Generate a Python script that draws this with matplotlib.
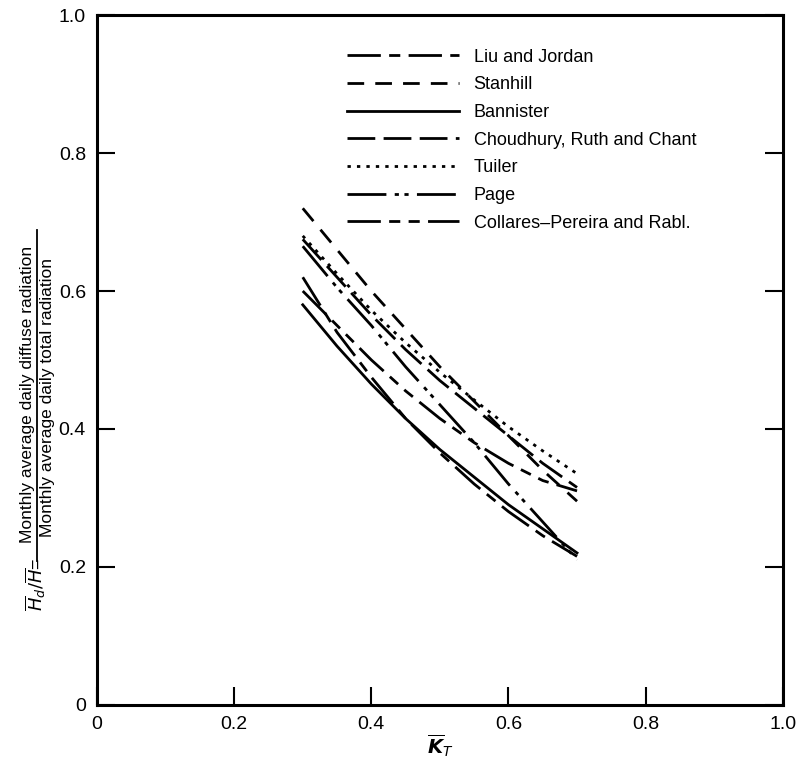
import numpy as np
import matplotlib.pyplot as plt
from matplotlib.lines import Line2D

plt.rcParams['font.family'] = ['Liberation Sans', 'DejaVu Sans']

# --- Data (K_T vs Hd/H) ---
kt = [0.30, 0.35, 0.40, 0.45, 0.50, 0.55, 0.60, 0.65, 0.70]

liu_jordan = [0.62, 0.54, 0.475, 0.415, 0.365, 0.32, 0.28, 0.245, 0.215]
stanhill = [0.72, 0.66, 0.60, 0.545, 0.49, 0.44, 0.39, 0.34, 0.295]
bannister = [0.58, 0.52, 0.465, 0.415, 0.37, 0.33, 0.29, 0.255, 0.22]
choudhury = [0.675, 0.62, 0.565, 0.515, 0.47, 0.43, 0.39, 0.35, 0.315]
tuiler = [0.68, 0.625, 0.572, 0.525, 0.482, 0.442, 0.403, 0.368, 0.335]
page = [0.665, 0.605, 0.55, 0.49, 0.435, 0.38, 0.32, 0.265, 0.21]
collares = [0.60, 0.55, 0.50, 0.455, 0.415, 0.38, 0.35, 0.325, 0.31]

labels = ["Liu and Jordan", "Stanhill", "Bannister",
          "Choudhury, Ruth and Chant", "Tuiler", "Page",
          "Collares\u2013Pereira and Rabl."]

ticks = [0, 0.2, 0.4, 0.6, 0.8, 1.0]
tick_labels = ["0", "0.2", "0.4", "0.6", "0.8", "1.0"]

fig = plt.figure(figsize=(8.02, 7.65), dpi=100)
ax = fig.add_axes([0.121, 0.079, 0.855, 0.901])

lw = 2.0
ax.plot(kt, liu_jordan, color='black', lw=lw, dashes=(12, 3, 4, 3), label=labels[0])
ax.plot(kt, stanhill, color='black', lw=lw, dashes=(6, 4), label=labels[1])
ax.plot(kt, bannister, color='black', lw=lw, ls='-', label=labels[2])
ax.plot(kt, choudhury, color='black', lw=lw, dashes=(10, 3), label=labels[3])
ax.plot(kt, tuiler, color='black', lw=lw, dashes=(1.2, 2.2), label=labels[4])
ax.plot(kt, page, color='black', lw=lw, dashes=(14, 3, 1.5, 2, 1.5, 3), label=labels[5])
ax.plot(kt, collares, color='black', lw=lw, dashes=(12, 3, 4, 3, 4, 3), label=labels[6])

ax.set_xlim(0, 1.0)
ax.set_ylim(0, 1.0)
ax.set_xticks(ticks)
ax.set_xticklabels(tick_labels)
ax.set_yticks(ticks)
ax.set_yticklabels(tick_labels)
ax.tick_params(direction='in', length=13, width=1.5, labelsize=14, pad=8,
               right=True, top=False)
for s in ax.spines.values():
    s.set_linewidth(2.2)

ax.set_xlabel(r'$\overline{\boldsymbol{K}}_T$', fontsize=14, labelpad=0)

# y label: H_d/H = fraction of two text lines, written vertically
bar_x = 0.046
fig.text(bar_x - 0.001, 0.236, r'$\overline{H}_d/\overline{H}$=', rotation=90,
         ha='center', va='center', fontsize=13)
fig.text(bar_x - 0.002, 0.484, 'Monthly average daily diffuse radiation', rotation=90,
         ha='right', va='center', fontsize=12.5)
fig.text(bar_x + 0.004, 0.480, 'Monthly average daily total radiation', rotation=90,
         ha='left', va='center', fontsize=12.5)
fig.add_artist(Line2D([bar_x, bar_x], [0.267, 0.70], transform=fig.transFigure,
                      color='black', lw=1.3))

leg = ax.legend(loc='upper left', bbox_to_anchor=(0.341, 0.975), frameon=False,
                fontsize=13, handlelength=6.2, handletextpad=0.8, labelspacing=0.59)

fig.savefig('out.png', dpi=100)
